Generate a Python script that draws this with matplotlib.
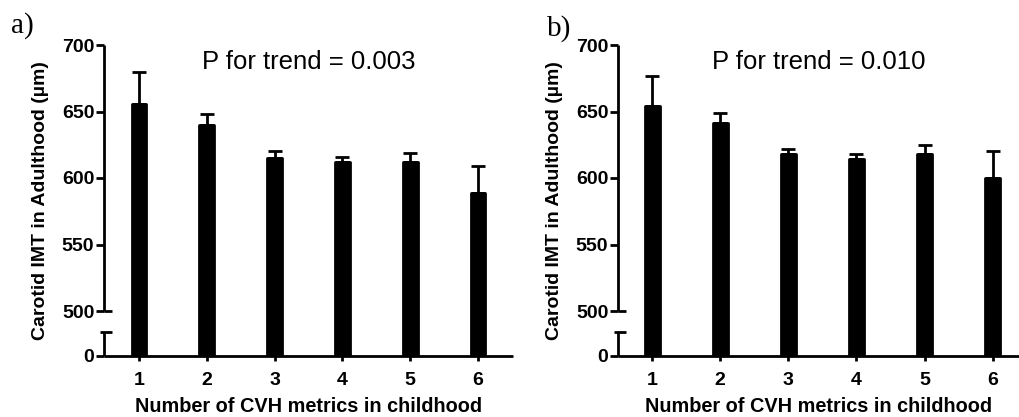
import numpy as np
import matplotlib
matplotlib.use("Agg")
import matplotlib.pyplot as plt
from matplotlib import transforms as mtransforms

# ---- data ----
categories = [1, 2, 3, 4, 5, 6]
imt_a = [656, 640, 615, 612, 612, 589]
err_a = [24, 8, 5, 4, 7, 20]
imt_b = [654, 641, 618, 614, 618, 600]
err_b = [23, 7.5, 4, 4, 7, 20]
p_texts = ["P for trend = 0.003", "P for trend = 0.010"]
panel_labels = ["a)", "b)"]
yticks = [0, 500, 550, 600, 650, 700]
ylabel = "Carotid IMT in Adulthood (µm)"
xlabel = "Number of CVH metrics in childhood"

# broken-axis scale: 0..500 compressed, 500..700 linear
LOW_K = 45.0 / 500.0
HIGH_K = 266.0 / 200.0


def fwd(y):
    y = np.asarray(y, dtype=float)
    return np.where(y <= 500, y * LOW_K, 500 * LOW_K + (y - 500) * HIGH_K)


def inv(t):
    t = np.asarray(t, dtype=float)
    return np.where(t <= 500 * LOW_K, t / LOW_K, 500 + (t - 500 * LOW_K) / HIGH_K)


BREAK_LOW = 24.0 / LOW_K  # data value at top of lower segment

plt.rcParams['font.family'] = ['Liberation Sans', 'DejaVu Sans']

W, H = 1020, 417
fig = plt.figure(figsize=(W / 100, H / 100), dpi=100)

bottom = (H - 356) / H
height = (356 - 45) / H
axes_specs = [
    (104 / W, (513 - 104) / W, (0.484, 6.516)),
    (618 / W, (1020 - 618) / W, (0.50, 6.40)),
]
data = [(imt_a, err_a), (imt_b, err_b)]
lab_pos = [(11 / W, 1 - 33 / H), (547 / W, 1 - 36 / H)]

LW = 2.0
for i, ((left, width, xl), (vals, errs)) in enumerate(zip(axes_specs, data)):
    ax = fig.add_axes([left, bottom, width, height])
    ax.set_yscale('function', functions=(fwd, inv))
    ax.set_ylim(0, 700)
    ax.set_xlim(*xl)

    ax.bar(categories, vals, width=0.22, color='black', edgecolor='black',
           linewidth=2.0, joinstyle='round', zorder=3)
    ax.errorbar(categories, vals, yerr=[np.zeros(len(errs)), errs], fmt='none',
                ecolor='black', elinewidth=LW, capsize=5, capthick=LW, zorder=2)

    for s in ['top', 'right', 'left']:
        ax.spines[s].set_visible(False)
    ax.spines['bottom'].set_linewidth(LW)
    ax.spines['bottom'].set_capstyle('butt')

    # manual broken left spine
    tr = mtransforms.blended_transform_factory(ax.transAxes, ax.transData)
    ax.plot([0, 0], [0, BREAK_LOW], color='black', lw=LW, transform=tr,
            clip_on=False, solid_capstyle='butt')
    ax.plot([0, 0], [500, 700], color='black', lw=LW, transform=tr,
            clip_on=False, solid_capstyle='butt')
    axw_px = width * W
    ax.plot([-4 / axw_px, 8 / axw_px], [BREAK_LOW, BREAK_LOW], color='black',
            lw=LW, transform=tr, clip_on=False, solid_capstyle='butt')
    ax.plot([0, 8 / axw_px], [500, 500], color='black', lw=LW, transform=tr,
            clip_on=False, solid_capstyle='butt')

    ax.set_yticks(yticks)
    ax.set_yticklabels([str(v) for v in yticks], fontweight='bold', fontsize=14)
    ax.set_xticks(categories)
    ax.set_xticklabels([str(c) for c in categories], fontweight='bold', fontsize=14)
    ax.yaxis.set_minor_locator(matplotlib.ticker.NullLocator())
    ax.tick_params(axis='y', length=6, width=LW, pad=1.0)
    ax.tick_params(axis='x', length=3.5, width=LW, pad=8)

    ax.set_ylabel(ylabel, fontweight='bold', fontsize=14)
    ax.yaxis.set_label_coords(-(104 - 49) / axw_px, 0.5)
    ax.set_xlabel(xlabel, fontweight='bold', fontsize=14.3, labelpad=5.5)

    ax.text(0.5, 0.945, p_texts[i], transform=ax.transAxes, ha='center',
            va='center', fontsize=18.5)

    fig.text(lab_pos[i][0], lab_pos[i][1], panel_labels[i],
             family=['Liberation Serif'], fontsize=21, ha='left', va='baseline')

fig.savefig("out.png", dpi=100)
